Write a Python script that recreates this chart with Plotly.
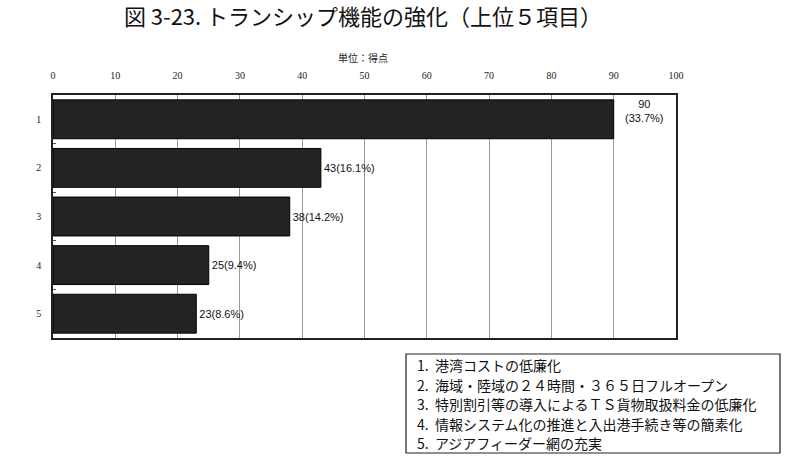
import plotly.graph_objects as go

# Data
categories = ['1', '2', '3', '4', '5']
scores = [90, 43, 38, 25, 23]
shares = [33.7, 16.1, 14.2, 9.4, 8.6]
items = [
    '港湾コストの低廉化',
    '海域・陸域の２４時間・３６５日フルオープン',
    '特別割引等の導入によるＴＳ貨物取扱料金の低廉化',
    '情報システム化の推進と入出港手続き等の簡素化',
    'アジアフィーダー網の充実',
]
x_ticks = list(range(0, 101, 10))

W, H = 800, 462
L, R, T, B = 53, 124, 95, 124
plot_h = H - T - B

def py(pix):
    # pixel row -> paper y
    return (H - B - pix) / plot_h

def px(pix):
    return (pix - L) / (W - L - R)

labels = [f"{s}({p}%)" for s, p in zip(scores, shares)]
labels[0] = ''  # first label drawn as two-line annotation

fig = go.Figure()
fig.add_trace(go.Bar(
    x=scores,
    y=categories,
    orientation='h',
    marker=dict(color='#232323', line=dict(color='#000000', width=1)),
    width=0.8,
    text=labels,
    textposition='outside',
    textfont=dict(family='Liberation Sans, Arial', size=11, color='#111'),
    cliponaxis=False,
    showlegend=False,
    hoverinfo='skip',
))

annotations = [
    dict(
        x=(scores[0] + 100) / 2, y=0, xref='x', yref='y',
        text=f"{scores[0]}<br>({shares[0]}%)", showarrow=False,
        yanchor='middle', yshift=8,
        font=dict(family='Liberation Sans, Arial', size=11, color='#111'),
    ),
    dict(
        x=px(363), y=py(58), xref='paper', yref='paper',
        xanchor='center', yanchor='middle',
        text='単位：得点', showarrow=False,
        font=dict(family='Noto Sans CJK JP', size=10, color='#222'),
    ),
]

# legend box listing the items
for i, item in enumerate(items):
    annotations.append(dict(
        x=px(415), y=py(365 + i * 19.5), xref='paper', yref='paper',
        xanchor='left', yanchor='middle',
        text=f"{i + 1}.\u00a0\u00a0{item}", showarrow=False,
        font=dict(family='Noto Sans CJK JP', size=14, color='#111'),
    ))

fig.update_layout(
    width=W, height=H,
    margin=dict(l=L, r=R, t=T, b=B),
    paper_bgcolor='white',
    plot_bgcolor='white',
    bargap=0.2,
    title=dict(
        text='図 3-23. トランシップ機能の強化（上位５項目）',
        x=363 / W, xanchor='center',
        y=1 - 17 / H, yanchor='middle',
        font=dict(family='Noto Sans CJK JP', size=22, color='#111'),
    ),
    xaxis=dict(
        side='top',
        range=[0, 100],
        tickvals=x_ticks,
        automargin=False,
        showgrid=True, gridcolor='#9a9a9a', gridwidth=1,
        showline=True, linecolor='#222', linewidth=1.5, mirror=True,
        zeroline=False,
        ticks='',
        ticklabelstandoff=10,
        tickfont=dict(family='Liberation Serif, DejaVu Serif', size=10, color='#222'),
    ),
    yaxis=dict(
        type='category',
        autorange='reversed',
        automargin=False,
        showgrid=False,
        showline=True, linecolor='#222', linewidth=1.5, mirror=True,
        ticks='inside', ticklen=3, tickcolor='#555',
        tickson='boundaries',
        ticklabelstandoff=8,
        tickfont=dict(family='Liberation Serif, DejaVu Serif', size=10, color='#222'),
    ),
    shapes=[dict(
        type='rect', xref='paper', yref='paper',
        x0=px(406), x1=px(780), y0=py(354), y1=py(453),
        line=dict(color='#222', width=1.2), fillcolor='rgba(0,0,0,0)',
    )],
    annotations=annotations,
)

# drop the browser's default page margin so the figure sits at the window's corner
fig.write_html(
    "out.html",
    config={'displayModeBar': False},
    post_script="document.body.style.margin='0px';",
)
